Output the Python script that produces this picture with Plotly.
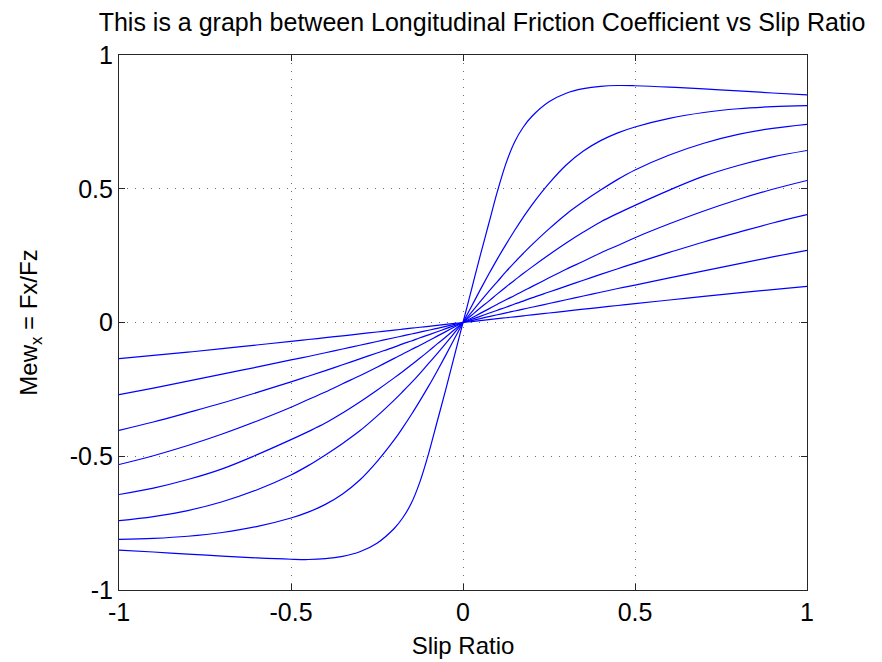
import plotly.graph_objects as go

# Slip ratio sample points (positive half; the curves are antisymmetric about the origin)
slip_pos = [0, 0.025, 0.05, 0.075, 0.1, 0.125, 0.15, 0.175, 0.2, 0.25,
            0.3, 0.35, 0.4, 0.45, 0.5, 0.6, 0.7, 0.8, 0.9, 1.0]

# Friction coefficient, steepest curve first
mu_1 = [0, 0.125, 0.25, 0.37, 0.49, 0.595, 0.675, 0.73, 0.77, 0.825,
        0.857, 0.874, 0.883, 0.886, 0.885, 0.88, 0.873, 0.866, 0.858, 0.851]
mu_2 = [0, 0.061, 0.122, 0.181, 0.238, 0.292, 0.344, 0.393, 0.439, 0.52,
        0.589, 0.641, 0.68, 0.709, 0.731, 0.763, 0.785, 0.799, 0.807, 0.811]
mu_3 = [0, 0.039, 0.078, 0.116, 0.153, 0.19, 0.225, 0.258, 0.29, 0.35,
        0.405, 0.452, 0.495, 0.535, 0.57, 0.626, 0.67, 0.703, 0.726, 0.741]
mu_4 = [0, 0.027, 0.054, 0.08, 0.107, 0.133, 0.158, 0.183, 0.207, 0.253,
        0.297, 0.338, 0.376, 0.408, 0.438, 0.495, 0.547, 0.587, 0.619, 0.643]
mu_5 = [0, 0.017, 0.034, 0.051, 0.068, 0.085, 0.101, 0.118, 0.134, 0.167,
        0.199, 0.229, 0.26, 0.288, 0.317, 0.369, 0.417, 0.46, 0.498, 0.531]
mu_6 = [0, 0.0115, 0.023, 0.0345, 0.046, 0.057, 0.069, 0.08, 0.092, 0.114,
        0.136, 0.158, 0.18, 0.201, 0.222, 0.262, 0.301, 0.337, 0.372, 0.403]
mu_7 = [0, 0.007, 0.0145, 0.022, 0.029, 0.036, 0.043, 0.05, 0.057, 0.071,
        0.085, 0.099, 0.113, 0.127, 0.14, 0.167, 0.193, 0.219, 0.245, 0.27]
mu_8 = [0, 0.0036, 0.0071, 0.0107, 0.0143, 0.0178, 0.0214, 0.025, 0.0285, 0.0356,
        0.0427, 0.0497, 0.0567, 0.0636, 0.0705, 0.0842, 0.0977, 0.111, 0.1232, 0.135]

curves = [mu_1, mu_2, mu_3, mu_4, mu_5, mu_6, mu_7, mu_8]

x_ticks = [-1, -0.5, 0, 0.5, 1]
x_tick_text = ["-1", "-0.5", "0", "0.5", "1"]
y_ticks = [-1, -0.5, 0, 0.5, 1]
y_tick_text = ["-1", "-0.5", "0", "0.5", "1"]

title_text = "This is a graph between Longitudinal Friction Coefficient vs Slip Ratio"
x_label = "Slip Ratio"
y_label = "Mew<sub>x</sub> = Fx/Fz"

FONT = "Liberation Sans, Arial, Helvetica, sans-serif"

fig = go.Figure()
for mu in curves:
    xs = [-v for v in reversed(slip_pos[1:])] + slip_pos
    ys = [-v for v in reversed(mu[1:])] + mu
    fig.add_trace(go.Scatter(x=xs, y=ys, mode="lines",
                             line=dict(color="#0000ff", width=1.2, shape="spline", smoothing=1.0),
                             showlegend=False, hoverinfo="skip"))

axis_common = dict(
    showline=True, linecolor="#262626", linewidth=1.2, mirror="ticks",
    ticks="inside", ticklen=6, tickcolor="#262626", tickwidth=1,
    showgrid=True, gridcolor="#6e6e6e", griddash="1px,7px", gridwidth=1,
    zeroline=False, automargin=False,
    tickfont=dict(family=FONT, size=25, color="#000000"),
)

fig.update_xaxes(range=[-1, 1], tickvals=x_ticks, ticktext=x_tick_text,
                 title=dict(text=x_label, font=dict(family=FONT, size=24, color="#000"), standoff=12),
                 **axis_common)
fig.update_yaxes(range=[-1, 1], tickvals=y_ticks, ticktext=y_tick_text,
                 title=dict(text=y_label, font=dict(family=FONT, size=24, color="#000"), standoff=25),
                 **axis_common)

fig.update_layout(
    width=882, height=662,
    margin=dict(l=119, r=75, t=55, b=72),
    paper_bgcolor="white", plot_bgcolor="white",
    title=dict(text=title_text, x=482 / 882, xanchor="center", xref="container",
               y=1 - 22 / 662, yanchor="middle", yref="container",
               font=dict(family=FONT, size=25, color="#000")),
)

fig.write_html("out.html")
